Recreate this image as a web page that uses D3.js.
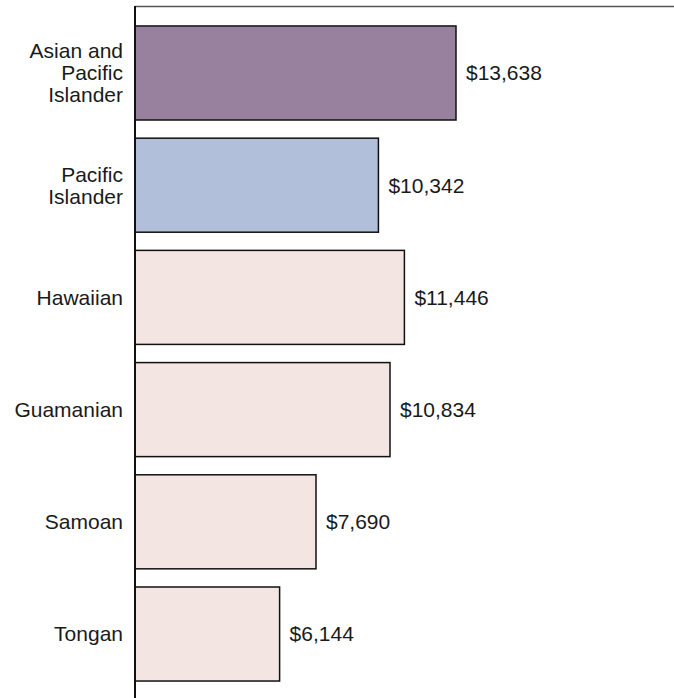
<!DOCTYPE html>
<html>
<head>
<meta charset="utf-8">
<script src="https://cdn.jsdelivr.net/npm/d3@7"></script>
<style>
  html, body { margin: 0; padding: 0; background: #fff; }
  svg { display: block; }
  text { font-family: "Liberation Sans", Arial, sans-serif; fill: #1a1a1a; }
</style>
</head>
<body>
<svg id="chart" width="674" height="698"></svg>
<script>
// Per capita income by group
const categories = ["Asian and Pacific Islander", "Pacific Islander", "Hawaiian", "Guamanian", "Samoan", "Tongan"];
const categoryLines = [["Asian and", "Pacific", "Islander"], ["Pacific", "Islander"], ["Hawaiian"], ["Guamanian"], ["Samoan"], ["Tongan"]];
const values = [13638, 10342, 11446, 10834, 7690, 6144];
const valueLabels = ["$13,638", "$10,342", "$11,446", "$10,834", "$7,690", "$6,144"];
const barColors = ["#98819e", "#b2bfdb", "#f3e5e2", "#f3e5e2", "#f3e5e2", "#f3e5e2"];

const W = 674, H = 698;
const svg = d3.select("#chart");

const x = d3.scaleLinear().domain([0, 22900]).range([135, 674]);
const y = d3.scaleBand().domain(categories).range([6, 701]).paddingInner(0.162).paddingOuter(0.178);

// frame: top rule and value axis baseline
svg.append("line")
  .attr("x1", x(0)).attr("x2", W).attr("y1", 6.5).attr("y2", 6.5)
  .attr("stroke", "#555").attr("stroke-width", 1.5);

// bars
svg.selectAll("rect.bar")
  .data(categories)
  .join("rect")
  .attr("class", "bar")
  .attr("x", x(0))
  .attr("y", d => y(d))
  .attr("width", (d, i) => x(values[i]) - x(0))
  .attr("height", y.bandwidth())
  .attr("fill", (d, i) => barColors[i])
  .attr("stroke", "#111")
  .attr("stroke-width", 1.5);

svg.append("line")
  .attr("x1", x(0)).attr("x2", x(0)).attr("y1", 6).attr("y2", H)
  .attr("stroke", "#111").attr("stroke-width", 2);

// value labels
svg.selectAll("text.val")
  .data(categories)
  .join("text")
  .attr("class", "val")
  .attr("x", (d, i) => x(values[i]) + 10)
  .attr("y", d => y(d) + y.bandwidth() / 2)
  .attr("dy", "0.35em")
  .attr("font-size", 21)
  .text((d, i) => valueLabels[i]);

// category labels, right aligned against the axis
const lineH = 22;
svg.selectAll("text.cat")
  .data(categories)
  .join("text")
  .attr("class", "cat")
  .attr("text-anchor", "end")
  .attr("font-size", 21)
  .each(function(d, i) {
    const lines = categoryLines[i];
    const cy = y(d) + y.bandwidth() / 2;
    const t = d3.select(this);
    lines.forEach((ln, k) => {
      t.append("tspan")
        .attr("x", 123)
        .attr("y", cy + (k - (lines.length - 1) / 2) * lineH)
        .attr("dy", "0.35em")
        .text(ln);
    });
  });
</script>
</body>
</html>
